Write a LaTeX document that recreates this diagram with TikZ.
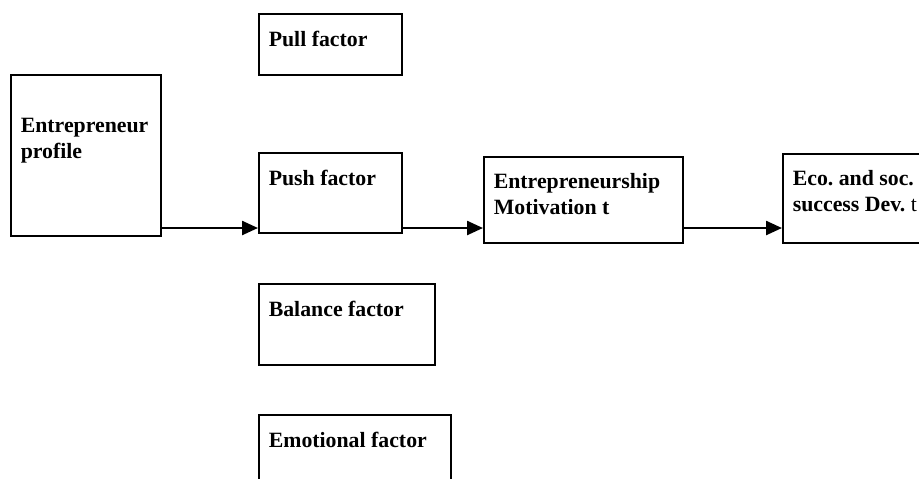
\documentclass[tikz,border=0pt]{standalone}
\usepackage{fontspec}
\setmainfont{Liberation Serif}
\usetikzlibrary{arrows.meta,positioning}
\newcommand{\boxtext}[3]{\parbox[c][\dimexpr#2-17pt\relax][t]{\dimexpr#1-10pt\relax}{\raggedright\frenchspacing#3}}

\begin{document}
\begin{tikzpicture}[x=0.5pt,y=-0.5pt]

\tikzset{
	blk/.style={
		draw=black,
		rectangle,
		line width=0.8pt,
		inner xsep=5pt,
		inner ysep=8.5pt,
		anchor=north west,
		font=\fontsize{10.9pt}{13pt}\selectfont\bfseries},
	arr/.style={
		-{Triangle[length=8pt,width=7pt]},
		line width=1.2pt}
}

\useasboundingbox (0,0) rectangle (919,478);
\clip (0,0) rectangle (919,478);

\node[blk] (prof) at (10,74) {\boxtext{75pt}{80.5pt}{\vspace*{13pt}Entrepreneur\\profile}};

\node[blk] (pull) at (258,13) {\boxtext{71.5pt}{30.5pt}{Pull factor}};
\node[blk] (push) at (258,152) {\boxtext{71.5pt}{40pt}{Push factor}};
\node[blk] (bal) at (258,283) {\boxtext{88pt}{40.5pt}{Balance factor}};
\node[blk] (emo) at (258,414) {\boxtext{96pt}{50pt}{Emotional factor}};

\node[blk] (mot) at (483,156) {\boxtext{99.5pt}{43pt}{Entrepreneurship\\Motivation t}};
\node[blk] (eco) at (782,153) {\boxtext{75pt}{44.5pt}{Eco. and soc.\\success Dev. {\mdseries t}}};

\coordinate (lvl) at (0,228);
\draw[arr] (prof.east |- lvl) -- (push.west |- lvl);
\draw[arr] (push.east |- lvl) -- (mot.west |- lvl);
\draw[arr] (mot.east |- lvl) -- (eco.west |- lvl);
\end{tikzpicture}
\end{document}
